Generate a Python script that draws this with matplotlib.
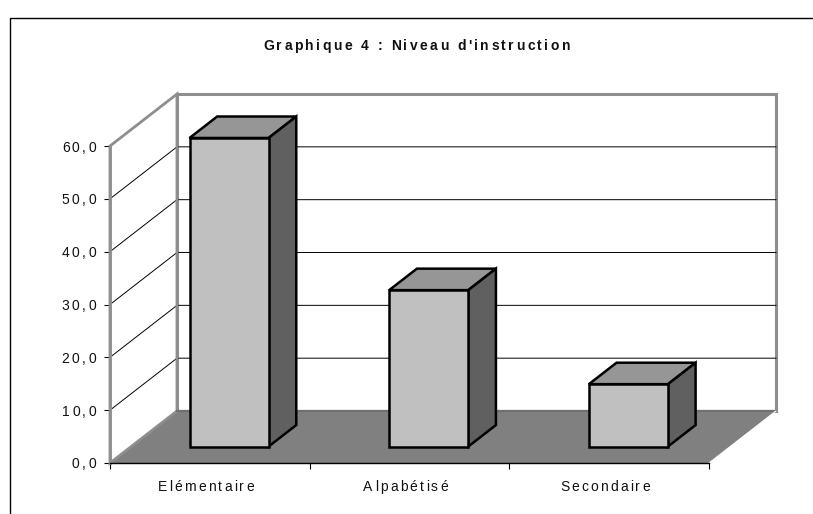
import matplotlib
matplotlib.use('Agg')
import matplotlib.pyplot as plt
from matplotlib.font_manager import findfont, get_font
from matplotlib.lines import Line2D
from matplotlib.patches import Polygon
from matplotlib.text import Text

categories = ['Elémentaire', 'Alpabétisé', 'Secondaire']
values = [58.4, 29.6, 11.8]
y_ticks = [0, 10, 20, 30, 40, 50, 60]
y_labels = ['0,0', '10,0', '20,0', '30,0', '40,0', '50,0', '60,0']
title = "Graphique 4 : Niveau d'instruction"

W, H = 813, 514
# 3d look: one unit of depth moves a point this far in data units
DX = 0.3355
DY = 9.84
WALL = '#8E8E8E'
FLOOR = '#808080'


class SpacedText(Text):
    # matplotlib has no letter spacing, the original chart does
    spacing = 2.2

    def draw(self, renderer):
        if not self.get_visible() or not self.get_text():
            return
        s = self.get_text()
        _, info, _ = self._get_layout(renderer)
        ax_, ay_ = self.get_transform().transform(self.get_unitless_position())
        x = ax_ + info[0][2]
        y = ay_ + info[0][3]
        extra = self.spacing * (len(s) - 1)
        if self.get_ha() == 'center':
            x -= extra / 2
        elif self.get_ha() == 'right':
            x -= extra
        prop = self.get_fontproperties()
        font = get_font(findfont(prop))
        font.set_size(prop.get_size_in_points(), renderer.dpi)
        gc = renderer.new_gc()
        gc.set_foreground(self.get_color())
        for ch in s:
            renderer.draw_text(gc, x, renderer.height - y, ch, prop, 0, ismath=False)
            adv = font.load_char(ord(ch)).linearHoriAdvance / 65536
            x += adv + self.spacing
        gc.restore()


def p(x, v, d=0.0):
    return (x + d * DX, v + d * DY)


plt.rcParams['font.family'] = ['Liberation Sans', 'DejaVu Sans']
fig = plt.figure(figsize=(W / 100, H / 100), dpi=100)
ax = fig.add_axes([110 / W, (H - 463) / H, 599 / W, 317 / H])
ax.set_xlim(0, 3)
ax.set_ylim(0, 60)
ax.patch.set_visible(False)

# outer chart frame, only top and left are inside the picture
fig.add_artist(Line2D([9.5 / W, 9.5 / W, 1], [0, 1 - 17.5 / H, 1 - 17.5 / H], transform=fig.transFigure,
                      color='black', lw=1.0))

# walls and floor
ymax = y_ticks[-1]
ax.add_patch(Polygon([p(0, 0, 1), p(3, 0, 1), p(3, ymax, 1), p(0, ymax, 1)], fc='white', ec=WALL, lw=2.2,
                     clip_on=False, zorder=1))
for v in y_ticks[1:-1]:
    ax.plot(*zip(p(0, v, 0), p(0, v, 1), p(3, v, 1)), color='black', lw=0.7, clip_on=False, zorder=1.5)
ax.add_patch(Polygon([p(0, 0, 0), p(3, 0, 0), p(3, 0, 1), p(0, 0, 1)], fc=FLOOR, ec='none',
                     clip_on=False, zorder=2))
ax.add_patch(Polygon([p(0, 0, 0), p(0, ymax, 0), p(0, ymax, 1), p(0, 0, 1)], fill=False, ec=WALL, lw=2.0,
                     clip_on=False, zorder=2.05))
ax.plot(*zip(p(0, 0, 1), p(3, 0, 1)), color='#707070', lw=1.6, clip_on=False, zorder=2.1)
ax.plot(*zip(p(3, 0, 0), p(3, 0, 1)), color='white', lw=0.8, clip_on=False, zorder=2.1)

# bars
bar_w = 0.396
d0, d1 = 0.317, 0.73
for i, v in enumerate(values):
    x0 = i + 0.5 - bar_w / 2 - 0.01
    x1 = x0 + bar_w
    kw = dict(ec='black', lw=1.8, joinstyle='miter', clip_on=False, zorder=3)
    ax.add_patch(Polygon([p(x0, v, d0), p(x1, v, d0), p(x1, v, d1), p(x0, v, d1)], fc='#969696', **kw))
    ax.add_patch(Polygon([p(x1, 0, d0), p(x1, 0, d1), p(x1, v, d1), p(x1, v, d0)], fc='#606060', **kw))
    ax.add_patch(Polygon([p(x0, 0, d0), p(x1, 0, d0), p(x1, v, d0), p(x0, v, d0)], fc='#C0C0C0', **kw))

# axes
for name in ['top', 'right']:
    ax.spines[name].set_visible(False)
ax.spines['left'].set_color(WALL)
ax.spines['left'].set_linewidth(2.0)
ax.spines['bottom'].set_color('black')
ax.spines['bottom'].set_linewidth(1.0)
ax.spines['left'].set_zorder(2.5)
ax.spines['bottom'].set_zorder(2.5)
ax.set_xticks(range(4))
ax.set_xticklabels([])
ax.set_yticks(y_ticks)
ax.set_yticklabels(y_labels, fontsize=10, color='#111111')
ax.tick_params(axis='x', length=4.5, width=0.8, color='black')
ax.tick_params(axis='y', length=4.5, width=0.8, color='black', pad=5.6)
for lab in ax.get_yticklabels():
    lab.__class__ = SpacedText
    lab.spacing = 2.4

for i, c in enumerate(categories):
    t = SpacedText(i + 0.48, -3.2, c, ha='center', va='top', fontsize=10, color='#111111',
                   transform=ax.transData, clip_on=False)
    ax.add_artist(t)

tt = SpacedText(417 / W, 1 - 46 / H, title, ha='center', va='center', fontsize=10, fontweight='bold',
                color='#111111', transform=fig.transFigure)
tt.spacing = 2.45
fig.add_artist(tt)

fig.savefig('out.png', dpi=100)
